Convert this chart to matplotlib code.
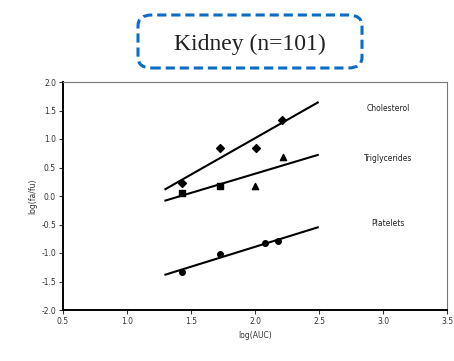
import matplotlib.pyplot as plt
from matplotlib.patches import FancyBboxPatch

# data
chol_x = [1.43, 1.73, 2.01, 2.21]
chol_y = [0.23, 0.84, 0.84, 1.34]
trig_x = [1.43, 1.73, 2.00, 2.22]
trig_y = [0.05, 0.17, 0.17, 0.68]
plat_x = [1.43, 1.73, 2.08, 2.18]
plat_y = [-1.33, -1.02, -0.82, -0.79]

# fitted lines (end points)
line_x = [1.30, 2.49]
chol_line = [0.12, 1.64]
trig_line = [-0.08, 0.72]
plat_line = [-1.38, -0.55]

labels = ['Cholesterol', 'Triglycerides', 'Platelets']
label_y = [1.53, 0.65, -0.49]

fig = plt.figure(figsize=(4.54, 3.61), dpi=100)
ax = fig.add_axes([63/454, 1-310/361, 384/454, 228/361])

ax.plot(line_x, chol_line, color='black', lw=1.5)
ax.plot(line_x, trig_line, color='black', lw=1.5)
ax.plot(line_x, plat_line, color='black', lw=1.5)

ax.scatter(chol_x, chol_y, marker='D', s=16, color='black', zorder=3)
ax.scatter(trig_x[:2], trig_y[:2], marker='s', s=13, color='black', zorder=3)
ax.scatter(trig_x[2:], trig_y[2:], marker='^', s=20, color='black', zorder=3)
ax.scatter(plat_x, plat_y, marker='o', s=16, color='black', zorder=3)

for lab, yy in zip(labels, label_y):
    ax.text(3.04, yy, lab, fontsize=5.5, ha='center', va='center', color='#222222')

ax.set_xlim(0.5, 3.5)
ax.set_ylim(-2.0, 2.0)
ax.set_xticks([0.5, 1.0, 1.5, 2.0, 2.5, 3.0, 3.5])
ax.set_yticks([2.0, 1.5, 1.0, 0.5, 0.0, -0.5, -1.0, -1.5, -2.0])
ax.set_xticklabels(['0.5', '1.0', '1.5', '2.0', '2.5', '3.0', '3.5'])
ax.set_yticklabels(['2.0', '1.5', '1.0', '0.5', '0.0', '-0.5', '-1.0', '-1.5', '-2.0'])
ax.tick_params(labelsize=5.5, length=3, width=0.8, colors='#333333', pad=2)
ax.set_xlabel('log(AUC)', fontsize=5.5, color='#333333', labelpad=4)
ax.set_ylabel('log(fa/fu)', fontsize=5.5, color='#333333', labelpad=3)
ax.spines['left'].set_linewidth(1.4)
ax.spines['bottom'].set_linewidth(1.4)
ax.spines['top'].set_color('#777777')
ax.spines['right'].set_color('#777777')
ax.spines['top'].set_linewidth(0.8)
ax.spines['right'].set_linewidth(0.8)

# title box
box = FancyBboxPatch((138/454, 1-68/361), 224/454, 53/361,
                     boxstyle='round,pad=0,rounding_size=0.03',
                     transform=fig.transFigure, fill=False,
                     edgecolor='#0A6CC4', lw=2.2, linestyle=(0, (3, 1.6)))
fig.patches.append(box)
fig.text(250/454, 1-44/361, 'Kidney (n=101)', fontsize=17, family='Liberation Serif',
         ha='center', va='center', color='#222222')

fig.savefig('out.png', dpi=100)
